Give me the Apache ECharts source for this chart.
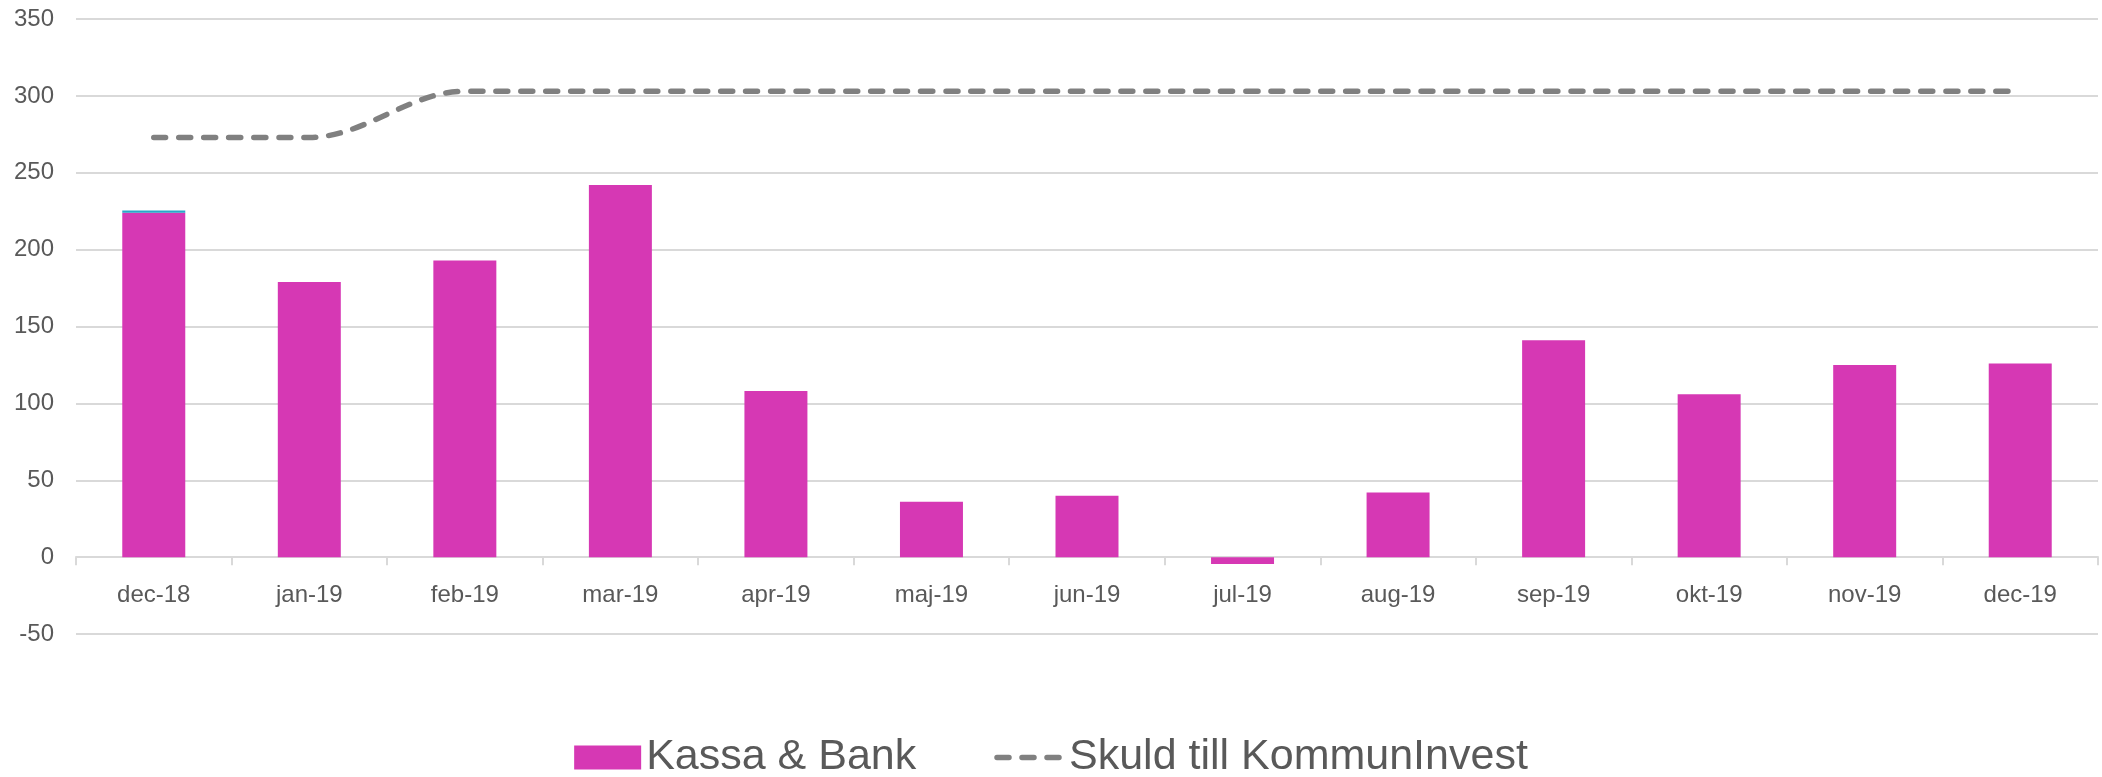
<!DOCTYPE html>
<html>
<head>
<meta charset="utf-8">
<script src="https://cdn.jsdelivr.net/npm/echarts@6/dist/echarts.min.js"></script>
<style>
  html, body { margin: 0; padding: 0; background: #fff; }
  #main { width: 2102px; height: 777px; }
</style>
</head>
<body>
<div id="main"></div>
<script>
var months = ['dec-18', 'jan-19', 'feb-19', 'mar-19', 'apr-19', 'maj-19', 'jun-19', 'jul-19', 'aug-19', 'sep-19', 'okt-19', 'nov-19', 'dec-19'];
// Kassa & Bank (mkr)
var kassaBank = [224, 179, 193, 242, 108, 36, 40, -4.5, 42, 141, 106, 125, 126];
// small extra part on top of the first bar
var ovrigt = [1.5, 0, 0, 0, 0, 0, 0, 0, 0, 0, 0, 0, 0];
// Skuld till KommunInvest
var skuld = [273, 273, 303, 303, 303, 303, 303, 303, 303, 303, 303, 303, 303];

var myChart = echarts.init(document.getElementById('main'));

var textColor = '#595959';
var lineColor = '#d9d9d9';
var dashStyle = {
    color: '#808080',
    width: 5.5,
    type: [12, 13],
    cap: 'round'
};

var option = {
    animation: false,
    grid: {
        left: 76,
        right: 4,
        top: 19,
        bottom: 143
    },
    legend: {
        data: [
            { name: 'Kassa & Bank', icon: 'rect' },
            { name: 'Skuld till KommunInvest', itemStyle: { opacity: 0 }, lineStyle: dashStyle }
        ],
        left: 'center',
        top: 731,
        itemWidth: 67,
        itemHeight: 24,
        itemGap: 78,
        textStyle: {
            color: textColor,
            fontSize: 43,
            fontFamily: 'Liberation Sans, Arial, sans-serif'
        }
    },
    xAxis: {
        type: 'category',
        data: months,
        axisLine: {
            lineStyle: { color: lineColor, width: 2 }
        },
        axisTick: {
            show: true,
            length: 8,
            lineStyle: { color: lineColor, width: 2 }
        },
        axisLabel: {
            color: textColor,
            fontSize: 24,
            margin: -51,
            fontFamily: 'Liberation Sans, Arial, sans-serif'
        }
    },
    yAxis: {
        type: 'value',
        min: -50,
        max: 350,
        interval: 50,
        axisLine: { show: false },
        axisTick: { show: false },
        axisLabel: {
            color: textColor,
            fontSize: 24,
            margin: 22,
            fontFamily: 'Liberation Sans, Arial, sans-serif'
        },
        splitLine: {
            lineStyle: { color: lineColor, width: 2 }
        }
    },
    series: [
        {
            name: 'Kassa & Bank',
            type: 'bar',
            stack: 'likv',
            barWidth: '40.5%',
            itemStyle: { color: '#D638B4' },
            data: kassaBank
        },
        {
            name: 'Övrigt',
            type: 'bar',
            stack: 'likv',
            itemStyle: { color: '#2AA7C9' },
            data: ovrigt
        },
        {
            name: 'Skuld till KommunInvest',
            type: 'line',
            smooth: 0.35,
            symbol: 'none',
            itemStyle: { color: '#808080' },
            lineStyle: dashStyle,
            data: skuld
        }
    ]
};

myChart.setOption(option);
</script>
</body>
</html>
